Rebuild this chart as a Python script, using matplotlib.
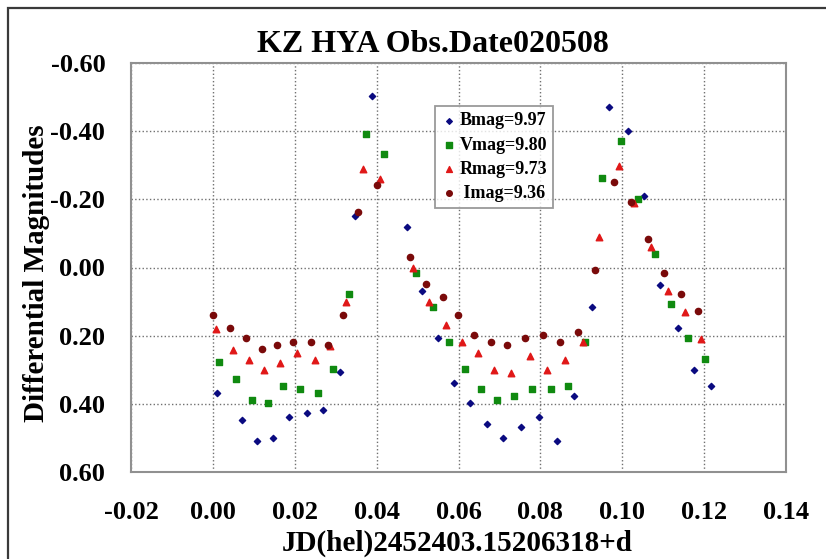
import numpy as np
import matplotlib
matplotlib.use("Agg")
import matplotlib.pyplot as plt
from matplotlib.patches import Rectangle

plt.rcParams['font.family'] = ['Liberation Serif', 'DejaVu Serif']
plt.rcParams['font.weight'] = 'bold'

# datos
b_x = [0.0010, 0.0072, 0.0109, 0.0148, 0.0186, 0.0230, 0.0270, 0.0310, 0.0347, 0.0389,
       0.0473, 0.0511, 0.0550, 0.0590, 0.0629, 0.0669, 0.0709, 0.0753, 0.0797, 0.0840,
       0.0883, 0.0925, 0.0967, 0.1014, 0.1054, 0.1092, 0.1135, 0.1175, 0.1217]
b_y = [0.367, 0.448, 0.508, 0.499, 0.438, 0.428, 0.418, 0.308, -0.151, -0.502,
       -0.120, 0.069, 0.206, 0.338, 0.399, 0.458, 0.499, 0.467, 0.438, 0.508,
       0.377, 0.117, -0.470, -0.401, -0.210, 0.050, 0.178, 0.300, 0.349]

v_x = [0.0015, 0.0057, 0.0096, 0.0135, 0.0172, 0.0214, 0.0257, 0.0294, 0.0333, 0.0373,
       0.0417, 0.0497, 0.0537, 0.0576, 0.0616, 0.0656, 0.0695, 0.0735, 0.0780, 0.0825,
       0.0867, 0.0909, 0.0950, 0.0998, 0.1038, 0.1079, 0.1120, 0.1160, 0.1201]
v_y = [0.277, 0.328, 0.389, 0.398, 0.347, 0.357, 0.367, 0.299, 0.077, -0.393,
       -0.332, 0.017, 0.116, 0.218, 0.299, 0.357, 0.389, 0.377, 0.357, 0.357,
       0.347, 0.218, -0.262, -0.371, -0.201, -0.041, 0.108, 0.206, 0.268]

r_x = [0.0007, 0.0049, 0.0088, 0.0126, 0.0164, 0.0205, 0.0249, 0.0285, 0.0326, 0.0366,
       0.0409, 0.0490, 0.0528, 0.0569, 0.0608, 0.0648, 0.0687, 0.0728, 0.0774, 0.0816,
       0.0860, 0.0903, 0.0943, 0.0992, 0.1029, 0.1071, 0.1111, 0.1153, 0.1193]
r_y = [0.181, 0.241, 0.270, 0.301, 0.279, 0.250, 0.270, 0.231, 0.100, -0.289,
       -0.261, 0.001, 0.100, 0.169, 0.220, 0.250, 0.301, 0.309, 0.259, 0.301,
       0.270, 0.220, -0.090, -0.298, -0.189, -0.060, 0.070, 0.132, 0.209]

i_x = [0.0000, 0.0041, 0.0080, 0.0119, 0.0157, 0.0196, 0.0239, 0.0280, 0.0319, 0.0355,
       0.0400, 0.0481, 0.0521, 0.0561, 0.0598, 0.0639, 0.0680, 0.0719, 0.0763, 0.0806,
       0.0849, 0.0893, 0.0933, 0.0979, 0.1021, 0.1063, 0.1102, 0.1144, 0.1184]
i_y = [0.139, 0.177, 0.206, 0.239, 0.228, 0.218, 0.218, 0.228, 0.139, -0.163,
       -0.242, -0.031, 0.049, 0.088, 0.139, 0.198, 0.218, 0.228, 0.206, 0.198,
       0.218, 0.188, 0.007, -0.252, -0.191, -0.083, 0.017, 0.078, 0.129]

x_ticks = [-0.02, 0.00, 0.02, 0.04, 0.06, 0.08, 0.10, 0.12, 0.14]
y_ticks = [-0.60, -0.40, -0.20, 0.00, 0.20, 0.40, 0.60]

fig = plt.figure(figsize=(8.26, 5.59), dpi=100)
# marco exterior
fig.patches.append(Rectangle((8/826, -0.1), 1.2, 1.1 - 8/559, transform=fig.transFigure,
                             fill=False, ec='#3a3a3a', lw=1.6))

ax = fig.add_axes([131/826, 87/559, 655/826, 409/559])
ax.scatter(b_x, b_y, marker='D', s=10, c='#0a0a80', label='Bmag=9.97', zorder=3)
ax.scatter(v_x, v_y, marker='s', s=18, c='#108a10', label='Vmag=9.80', zorder=3)
ax.scatter(r_x, r_y, marker='^', s=22, c='#e01818', label='Rmag=9.73', zorder=3)
ax.scatter(i_x, i_y, marker='o', s=20, c='#7a0a0a', label=' Imag=9.36', zorder=3)

ax.set_xlim(-0.02, 0.14)
ax.set_ylim(0.6, -0.6)
ax.set_xticks(x_ticks)
ax.set_xticklabels(['%.2f' % t for t in x_ticks])
ax.set_yticks(y_ticks)
ax.set_yticklabels(['%.2f' % t for t in y_ticks])
ax.tick_params(length=0, labelsize=19)
ax.tick_params(axis='y', pad=18.5)
ax.tick_params(axis='x', pad=21)
ax.grid(True, ls=':', color='#707070', lw=1.0)
for s in ax.spines.values():
    s.set_color('#909090')
    s.set_linewidth(1.5)

# titulos
fig.text(457/826, 1 - 543/559, 'JD(hel)2452403.15206318+d', fontsize=21, fontweight='bold',
         ha='center', va='center')
fig.text(37/826, 1 - 273/559, 'Differential Magnitudes', fontsize=21, fontweight='bold',
         rotation=90, ha='center', va='center')
fig.text(433/826, 1 - 44/559, 'KZ HYA Obs.Date020508', fontsize=23, fontweight='bold',
         ha='center', va='center')

leg = ax.legend(loc='upper left', bbox_to_anchor=((435-131)/655, (472-106)/409),
                fontsize=13, frameon=True, fancybox=False, edgecolor='#808080',
                handletextpad=0.2, borderpad=0.35, labelspacing=0.4, handlelength=0.8,
                borderaxespad=0, markerscale=0.9)
leg.get_frame().set_linewidth(1.3)

fig.savefig('out.png', dpi=100)
